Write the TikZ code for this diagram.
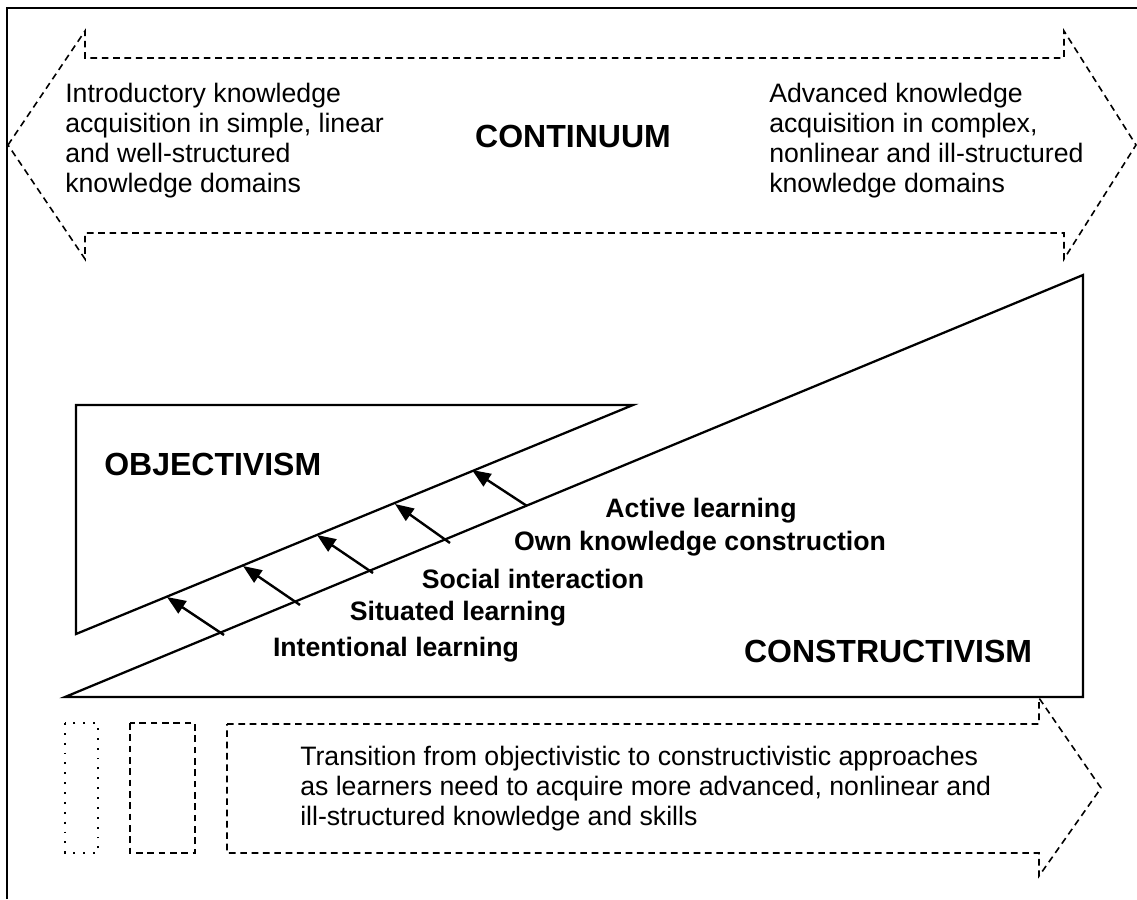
\documentclass[tikz,border=0pt]{standalone}
\usepackage{fontspec}
\setmainfont{Liberation Sans}
\usetikzlibrary{arrows.meta}
\begin{document}
\begin{tikzpicture}[x=0.75pt,y=-0.75pt,
  solidline/.style={line width=1.7pt, line join=miter},
  dashline/.style={line width=1.2pt, dash pattern=on 5pt off 3.5pt},
  dotline/.style={line width=1.4pt, dash pattern=on 1.4pt off 6pt},
  plaintext/.style={font=\fontsize{20}{22.5}\selectfont, align=left, inner sep=0pt, anchor=north west},
  boldlabel/.style={font=\fontsize{20}{22.5}\selectfont\bfseries, inner sep=0pt, anchor=base},
  biglabel/.style={font=\fontsize{24}{28}\selectfont\bfseries, inner sep=0pt, anchor=base},
  arr/.style={line width=1.8pt, -{Triangle[length=14pt,width=11pt]}},
]
\useasboundingbox (0,0) rectangle (1137,899);
% frame
\draw[line width=1.7pt] (7,899) -- (7,8) -- (1137,8);
% top double arrow (continuum)
\draw[dashline] (8,145) -- (85,31) -- (85,58) -- (1064,58) -- (1064,31) -- (1136,145)
  -- (1064,259) -- (1064,233) -- (85,233) -- (85,259) -- cycle;
% objectivism triangle
\draw[solidline] (76,405) -- (633,405) -- (76,634) -- cycle;
% constructivism triangle
\draw[solidline] (65,697) -- (1083,275) -- (1083,697) -- cycle;
% arrows
\coordinate (t1) at (224,635); \coordinate (h1) at (167,597);
\coordinate (t2) at (300,605); \coordinate (h2) at (243,566);
\coordinate (t3) at (373,573); \coordinate (h3) at (317,535);
\coordinate (t4) at (450,543); \coordinate (h4) at (395,504);
\coordinate (t5) at (527,506); \coordinate (h5) at (472,470);
\foreach \i in {1,...,5} {\draw[arr] (t\i) -- (h\i);}
% bottom shapes
\draw[dotline] (65,723) rectangle (98,853);
\draw[dashline] (130,723) rectangle (195,853);
\draw[dashline] (227,724) -- (1039,724) -- (1039,698) -- (1101,788) -- (1039,876)
  -- (1039,853) -- (227,853) -- cycle;
% texts
\node[plaintext] (intro) at (65,83) {Introductory knowledge\\acquisition in simple, linear\\and well-structured\\knowledge domains};
\node[plaintext] (adv) at (769,83) {Advanced knowledge\\acquisition in complex,\\nonlinear and ill-structured\\knowledge domains};
\node[biglabel] (cont) at (573,147) {CONTINUUM};
\node[biglabel, anchor=base west] (obj) at (104,475) {OBJECTIVISM};
\node[biglabel] (cons) at (888,662) {CONSTRUCTIVISM};
\node[boldlabel] (active) at (701,517) {Active learning};
\node[boldlabel] (own) at (700,550) {Own knowledge construction};
\node[boldlabel] (social) at (533,588) {Social interaction};
\node[boldlabel] (situated) at (458,620) {Situated learning};
\node[boldlabel] (intent) at (396,656) {Intentional learning};
\node[plaintext] (trans) at (300,746) {Transition from objectivistic to constructivistic approaches\\as learners need to acquire more advanced, nonlinear and\\ill-structured knowledge and skills};
\end{tikzpicture}
\end{document}
